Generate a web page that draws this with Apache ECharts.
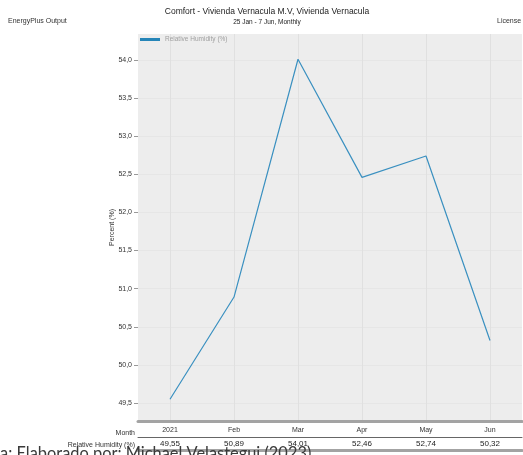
<!DOCTYPE html>
<html>
<head>
<meta charset="utf-8">
<script src="https://cdn.jsdelivr.net/npm/echarts@6/dist/echarts.min.js"></script>
<style>
  html, body { margin: 0; padding: 0; background: #ffffff; }
  #chart { width: 523px; height: 455px; }
</style>
</head>
<body>
<div id="chart"></div>
<script>
// Monthly relative humidity, EnergyPlus comfort report
const months = ['2021', 'Feb', 'Mar', 'Apr', 'May', 'Jun'];
const humidity = [49.55, 50.89, 54.01, 52.46, 52.74, 50.32];
const yTicks = [49.5, 50.0, 50.5, 51.0, 51.5, 52.0, 52.5, 53.0, 53.5, 54.0];
const yMin = 49.264;
const yMax = 54.341;

const fmt = (v, d) => Number(v).toFixed(d).replace('.', ',');
const FONT = '"Liberation Sans", Arial, sans-serif';

const chart = echarts.init(document.getElementById('chart'), null, { renderer: 'canvas' });

chart.setOption({
  backgroundColor: '#ffffff',
  animation: false,
  textStyle: { fontFamily: FONT },
  title: [
    {
      text: 'Comfort - Vivienda Vernacula M.V, Vivienda Vernacula',
      left: 267, top: 7.5, textAlign: 'center', padding: 0,
      textStyle: { fontSize: 8.5, fontWeight: 'normal', color: '#222', fontFamily: FONT }
    },
    {
      text: '25 Jan - 7 Jun, Monthly',
      left: 267, top: 19, textAlign: 'center', padding: 0,
      textStyle: { fontSize: 6.5, fontWeight: 'normal', color: '#222', fontFamily: FONT }
    },
    {
      text: 'EnergyPlus Output',
      left: 8, top: 18, padding: 0,
      textStyle: { fontSize: 7, fontWeight: 'normal', color: '#333', fontFamily: FONT }
    },
    {
      text: 'License',
      left: 497, top: 18, padding: 0,
      textStyle: { fontSize: 7, fontWeight: 'normal', color: '#333', fontFamily: FONT }
    }
  ],
  legend: {
    left: 140, top: 36, padding: 0,
    icon: 'rect', itemWidth: 20, itemHeight: 3, itemGap: 4,
    textStyle: { fontSize: 6.5, color: '#a0a0a0', fontFamily: FONT },
    data: ['Relative Humidity (%)']
  },
  grid: {
    left: 138, right: 1, top: 34, bottom: 34,
    show: true, backgroundColor: '#ededed', borderWidth: 0
  },
  xAxis: [
    {
      type: 'category', data: months, position: 'bottom',
      axisLine: { show: true, lineStyle: { color: '#a3a3a3', width: 3 } },
      axisTick: { show: false },
      axisLabel: { margin: 6, fontSize: 7, color: '#333', fontFamily: FONT },
      splitLine: { show: true, alignWithLabel: true, lineStyle: { color: '#e0e0e0', width: 1 } }
    },
    {
      type: 'category', data: humidity.map(v => fmt(v, 2)), position: 'bottom', offset: 16,
      axisLine: { show: true, lineStyle: { color: '#666', width: 1 } },
      axisTick: { show: false },
      axisLabel: { margin: 3, fontSize: 8, color: '#222', fontFamily: FONT },
      splitLine: { show: false }
    },
    {
      type: 'category', data: months, position: 'bottom', offset: 29,
      axisLine: { show: true, lineStyle: { color: '#a3a3a3', width: 3 } },
      axisTick: { show: false },
      axisLabel: { show: false },
      splitLine: { show: false }
    }
  ],
  yAxis: {
    type: 'value', min: yMin, max: yMax,
    name: 'Percent (%)', nameLocation: 'middle', nameGap: 22, nameRotate: 90,
    nameMoveOverlap: false,
    nameTextStyle: { fontSize: 7, color: '#333', fontFamily: FONT },
    axisLine: { show: false },
    axisTick: { show: true, length: 4, customValues: yTicks, lineStyle: { color: '#999' } },
    axisLabel: {
      customValues: yTicks, margin: 6, fontSize: 7, color: '#333', fontFamily: FONT,
      formatter: v => fmt(v, 1)
    },
    splitLine: { show: true, lineStyle: { color: '#e6e6e6', width: 1 } }
  },
  series: [
    {
      name: 'Relative Humidity (%)',
      type: 'line',
      data: humidity,
      xAxisIndex: 0,
      symbol: 'none',
      color: '#2585b8',
      lineStyle: { width: 1.2, color: '#3a90c0' }
    }
  ],
  graphic: [
    {
      // row headers of the table under the plot
      type: 'text', right: 388, top: 430,
      style: { text: 'Month', font: '7px "Liberation Sans", Arial, sans-serif', fill: '#333', textAlign: 'right' }
    },
    {
      type: 'text', right: 388, top: 442,
      style: { text: 'Relative Humidity (%)', font: '7px "Liberation Sans", Arial, sans-serif', fill: '#333', textAlign: 'right' }
    },
    {
      type: 'text', left: 0, top: 446, z: 100,
      style: {
        text: 'a: Elaborado por: Michael Velastegui (2023)',
        font: '16.4px Lato, "Noto Sans", sans-serif',
        fill: '#3a3a3a'
      }
    }
  ]
});
</script>
</body>
</html>
